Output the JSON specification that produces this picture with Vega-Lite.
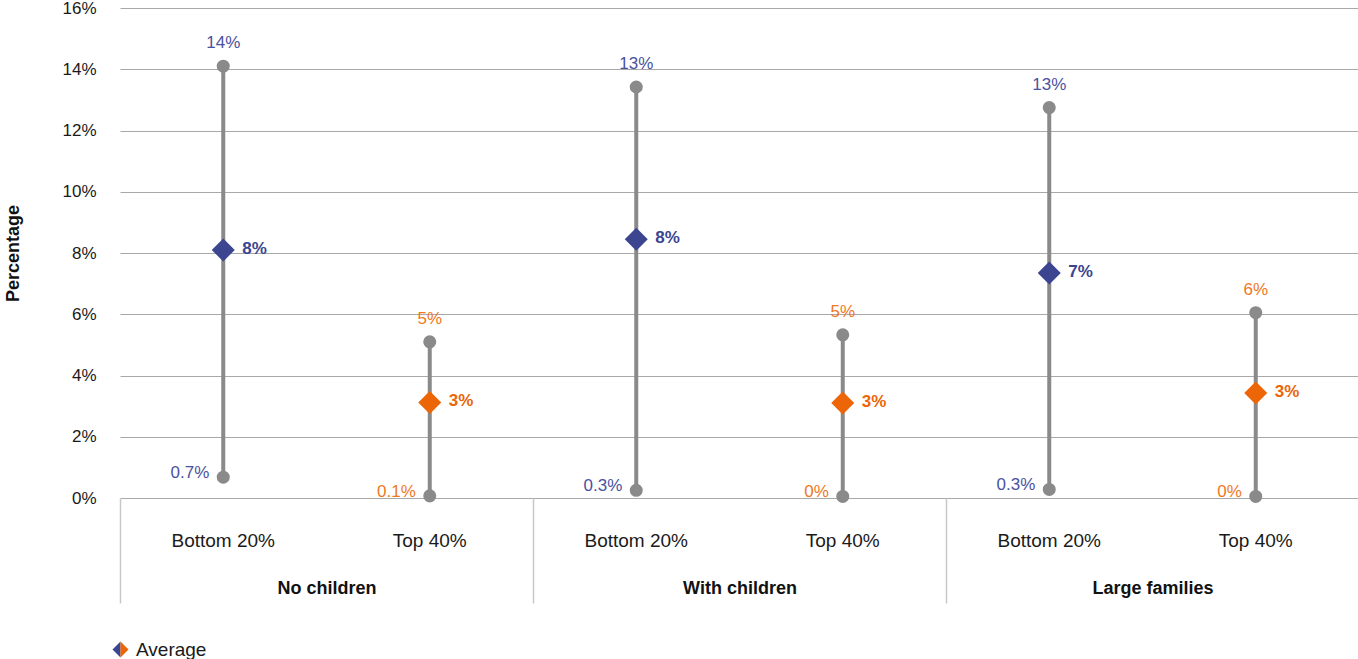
{
  "$schema": "https://vega.github.io/schema/vega-lite/v6.json",
  "width": 1239,
  "height": 490,
  "autosize": "none",
  "padding": {"left": 120, "top": 8, "right": 0, "bottom": 161},
  "background": "white",
  "config": {
    "font": "Liberation Sans",
    "view": {"stroke": null}
  },
  "data": {
    "values": [
      {"family": "No children", "income": "Bottom 20%", "cat": "No children|Bottom 20%", "min": 0.68, "max": 14.1, "avg": 8.1, "minLabel": "0.7%", "maxLabel": "14%", "avgLabel": "8%"},
      {"family": "No children", "income": "Top 40%", "cat": "No children|Top 40%", "min": 0.07, "max": 5.1, "avg": 3.12, "minLabel": "0.1%", "maxLabel": "5%", "avgLabel": "3%"},
      {"family": "With children", "income": "Bottom 20%", "cat": "With children|Bottom 20%", "min": 0.25, "max": 13.42, "avg": 8.45, "minLabel": "0.3%", "maxLabel": "13%", "avgLabel": "8%"},
      {"family": "With children", "income": "Top 40%", "cat": "With children|Top 40%", "min": 0.05, "max": 5.33, "avg": 3.1, "minLabel": "0%", "maxLabel": "5%", "avgLabel": "3%"},
      {"family": "Large families", "income": "Bottom 20%", "cat": "Large families|Bottom 20%", "min": 0.28, "max": 12.75, "avg": 7.35, "minLabel": "0.3%", "maxLabel": "13%", "avgLabel": "7%"},
      {"family": "Large families", "income": "Top 40%", "cat": "Large families|Top 40%", "min": 0.05, "max": 6.05, "avg": 3.43, "minLabel": "0%", "maxLabel": "6%", "avgLabel": "3%"}
    ]
  },
  "layer": [
    {
      "encoding": {
        "x": {
          "field": "cat",
          "type": "nominal",
          "sort": ["No children|Bottom 20%", "No children|Top 40%", "With children|Bottom 20%", "With children|Top 40%", "Large families|Bottom 20%", "Large families|Top 40%"],
          "scale": {"type": "band", "paddingInner": 0, "paddingOuter": 0},
          "axis": {
            "title": null,
            "labelExpr": "split(datum.label, '|')[1]",
            "labelAngle": 0,
            "ticks": false,
            "domain": false,
            "grid": false,
            "labelPadding": 33,
            "labelFontSize": 19,
            "labelColor": "#1a1a1a"
          }
        }
      },
      "layer": [
        {
          "mark": {"type": "rule", "color": "#8a8a8a", "strokeWidth": 4},
          "encoding": {
            "y": {
              "field": "min",
              "type": "quantitative",
              "title": "Percentage",
              "scale": {"domain": [0, 16], "nice": false},
              "axis": {
                "values": [0, 2, 4, 6, 8, 10, 12, 14, 16],
                "labelExpr": "datum.value + '%'",
                "grid": true,
                "gridColor": "#a8a8a8",
                "gridWidth": 1,
                "ticks": false,
                "domain": false,
                "labelPadding": 24,
                "labelFontSize": 17,
                "labelColor": "#1a1a1a",
                "titleFontSize": 18,
                "titleFontWeight": "bold",
                "titleColor": "#111111",
                "titlePadding": 39
              }
            },
            "y2": {"field": "max"}
          }
        },
        {
          "mark": {"type": "circle", "color": "#8a8a8a", "size": 170, "opacity": 1},
          "encoding": {
            "y": {"field": "min", "type": "quantitative", "title": "Percentage"}
          }
        },
        {
          "mark": {"type": "circle", "color": "#8a8a8a", "size": 170, "opacity": 1},
          "encoding": {
            "y": {"field": "max", "type": "quantitative", "title": "Percentage"}
          }
        },
        {
          "mark": {"type": "point", "shape": "diamond", "filled": true, "size": 530, "opacity": 1},
          "encoding": {
            "y": {"field": "avg", "type": "quantitative", "title": "Percentage"},
            "color": {
              "field": "income",
              "type": "nominal",
              "scale": {"domain": ["Bottom 20%", "Top 40%"], "range": ["#3b4590", "#ec6608"]},
              "legend": null
            }
          }
        },
        {
          "mark": {"type": "point", "filled": true, "color": "#3b4590", "size": 10, "opacity": 0},
          "encoding": {
            "y": {"field": "avg", "type": "quantitative", "title": "Percentage"},
            "shape": {
              "datum": "Average",
              "type": "nominal",
              "scale": {"range": ["M-1,0L0,-1L0,1Z"]},
              "legend": {
                "title": null,
                "orient": "none",
                "legendX": -9,
                "legendY": 632,
                "labelFontSize": 19,
                "labelColor": "#1a1a1a",
                "symbolSize": 256,
                "symbolStrokeWidth": 0,
                "symbolOpacity": 1,
                "labelOffset": 6
              }
            }
          }
        },
        {
          "mark": {"type": "point", "filled": true, "color": "#ec6608", "size": 10, "opacity": 0},
          "encoding": {
            "y": {"field": "avg", "type": "quantitative", "title": "Percentage"},
            "shape": {
              "datum": "Average",
              "type": "nominal",
              "scale": {"range": ["M0,-1L1,0L0,1Z"]},
              "legend": {
                "title": null,
                "orient": "none",
                "legendX": -9,
                "legendY": 632,
                "labelFontSize": 19,
                "labelOpacity": 0,
                "symbolSize": 256,
                "symbolStrokeWidth": 0,
                "symbolOpacity": 1,
                "labelOffset": 6
              }
            }
          }
        },
        {
          "mark": {"type": "text", "align": "right", "baseline": "middle", "dx": -14, "dy": -4, "fontSize": 17},
          "encoding": {
            "y": {"field": "min", "type": "quantitative", "title": "Percentage"},
            "text": {"field": "minLabel"},
            "fill": {
              "field": "income",
              "type": "nominal",
              "scale": {"domain": ["Bottom 20%", "Top 40%"], "range": ["#4a51a0", "#ef7823"]},
              "legend": null
            }
          }
        },
        {
          "mark": {"type": "text", "align": "center", "baseline": "middle", "dy": -23, "fontSize": 17},
          "encoding": {
            "y": {"field": "max", "type": "quantitative", "title": "Percentage"},
            "text": {"field": "maxLabel"},
            "fill": {"field": "income", "type": "nominal", "legend": null}
          }
        },
        {
          "mark": {"type": "text", "align": "left", "baseline": "middle", "dx": 19, "dy": -1, "fontSize": 17, "fontWeight": "bold"},
          "encoding": {
            "y": {"field": "avg", "type": "quantitative", "title": "Percentage"},
            "text": {"field": "avgLabel"},
            "color": {"field": "income", "type": "nominal", "legend": null}
          }
        }
      ],
      "resolve": {"scale": {"shape": "independent"}}
    },
    {
      "mark": {"type": "tick", "opacity": 0},
      "encoding": {
        "x": {
          "field": "family",
          "type": "nominal",
          "sort": ["No children", "With children", "Large families"],
          "scale": {"type": "band", "paddingInner": 0, "paddingOuter": 0},
          "axis": {
            "title": null,
            "orient": "bottom",
            "labelAngle": 0,
            "tickBand": "extent",
            "ticks": true,
            "tickSize": 105,
            "tickColor": "#c8c8c8",
            "tickWidth": 1.5,
            "domain": false,
            "grid": false,
            "labelPadding": -24,
            "labelFontSize": 18,
            "labelFontWeight": "bold",
            "labelColor": "#111111"
          }
        }
      }
    }
  ],
  "resolve": {"scale": {"x": "independent"}}
}
